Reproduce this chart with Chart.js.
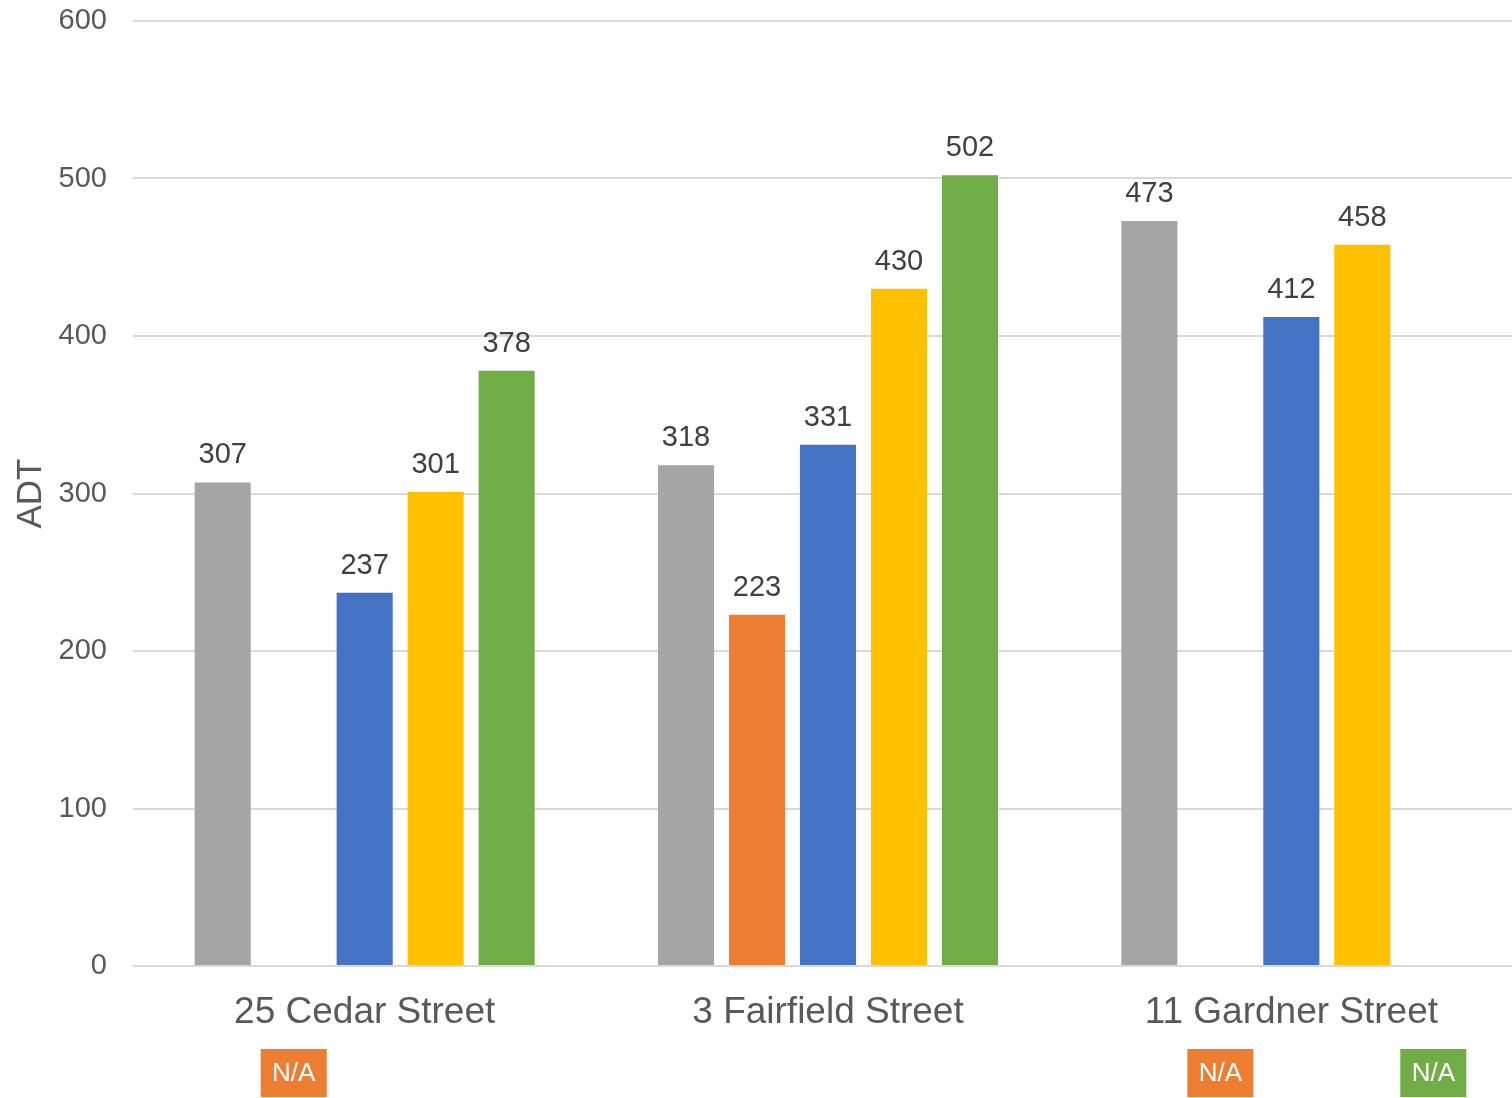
<!DOCTYPE html>
<html>
<head>
<meta charset="utf-8">
<script src="https://cdn.jsdelivr.net/npm/chart.js@4"></script>
<style>
  html, body { margin: 0; padding: 0; background: #ffffff; }
  #wrap { width: 1512px; height: 1098px; }
</style>
</head>
<body>
<div id="wrap"><canvas id="chart" width="1512" height="1098"></canvas></div>
<script>
'use strict';

// chart data
let locations = ['25 Cedar Street', '3 Fairfield Street', '11 Gardner Street'];
let seriesNames = ['Series 1', 'Series 2', 'Series 3', 'Series 4', 'Series 5'];
let series1 = [307, 318, 473];
let series2 = [null, 223, null];
let series3 = [237, 331, 412];
let series4 = [301, 430, 458];
let series5 = [378, 502, null];
let yTicks = [0, 100, 200, 300, 400, 500, 600];
let missingLabel = 'N/A';

let seriesColors = ['#A5A5A5', '#ED7D31', '#4472C4', '#FFC000', '#70AD47'];
let fontFamily = '"Liberation Sans", Arial, sans-serif';

let canvasElem = document.getElementById('chart');

// the original plot runs a little past the right edge of the picture
let stretchPlugin = {
  id: 'stretchX',
  afterLayout(chart) {
    let xs = chart.scales.x;
    xs.right += 11;
    xs.width += 11;
    xs.configure();
  }
};

// draws value labels over bars and N/A boxes under the axis for missing bars
let barLabelsPlugin = {
  id: 'barLabels',
  afterDatasetsDraw(chart) {
    let ctx = chart.ctx;
    let area = chart.chartArea;
    ctx.save();
    chart.data.datasets.forEach((ds, di) => {
      let meta = chart.getDatasetMeta(di);
      meta.data.forEach((bar, i) => {
        let v = ds.data[i];
        if (v === null || v === undefined) {
          // missing value -> coloured N/A tag below the category label
          let w = 66, h = 48;
          let x = bar.x;
          let top = area.bottom + 83;
          ctx.fillStyle = ds.backgroundColor;
          ctx.fillRect(x - w / 2, top, w, h);
          ctx.fillStyle = '#ffffff';
          ctx.font = '26px ' + fontFamily;
          ctx.textAlign = 'center';
          ctx.textBaseline = 'middle';
          ctx.fillText(missingLabel, x, top + h / 2 + 1);
        } else {
          ctx.fillStyle = '#404040';
          ctx.font = '29px ' + fontFamily;
          ctx.textAlign = 'center';
          ctx.textBaseline = 'middle';
          ctx.fillText(String(v), bar.x, bar.y - 27);
        }
      });
    });
    ctx.restore();
  }
};

function renderChart() {
  let allSeries = [series1, series2, series3, series4, series5];

  let chartDatasets = allSeries.map((vals, i) => ({
    label: seriesNames[i],
    data: vals,
    backgroundColor: seriesColors[i],
    borderWidth: 0,
    categoryPercentage: 0.766,
    barPercentage: 0.79
  }));

  let chartOptions = {
    responsive: false,
    animation: false,
    layout: {
      padding: { top: 21, right: 0, left: 0, bottom: 0 }
    },
    plugins: {
      legend: { display: false },
      tooltip: { enabled: false }
    },
    scales: {
      x: {
        grid: { display: false },
        border: { display: false },
        ticks: {
          color: '#595959',
          font: { family: fontFamily, size: 37 },
          padding: 17
        },
        afterFit(scale) {
          scale.height = 132;
          scale.paddingLeft = 0;
          scale.paddingRight = 0;
        }
      },
      y: {
        min: 0,
        max: 600,
        afterBuildTicks(scale) {
          scale.ticks = yTicks.map(v => ({ value: v }));
        },
        grid: {
          color: '#D9D9D9',
          lineWidth: 2,
          drawTicks: false
        },
        border: { display: false },
        ticks: {
          color: '#595959',
          font: { family: fontFamily, size: 29 },
          padding: 26
        },
        title: {
          display: true,
          text: 'ADT',
          color: '#595959',
          font: { family: fontFamily, size: 35 },
          padding: { top: 10, bottom: 0 }
        },
        afterFit(scale) {
          scale.width = 133;
          scale.paddingTop = 0;
          scale.paddingBottom = 0;
        }
      }
    }
  };

  let chartConfig = {
    type: 'bar',
    data: {
      labels: locations,
      datasets: chartDatasets
    },
    options: chartOptions,
    plugins: [stretchPlugin, barLabelsPlugin]
  };

  new Chart(canvasElem, chartConfig);
}

renderChart();
</script>
</body>
</html>
